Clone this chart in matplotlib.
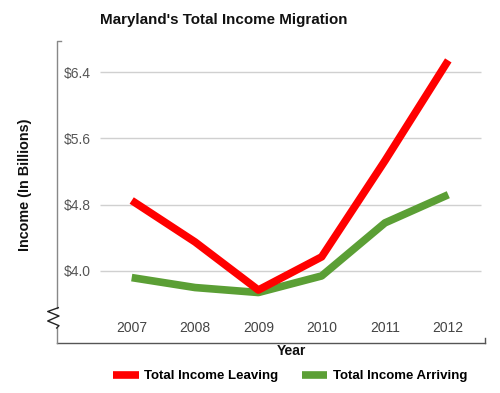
import matplotlib
matplotlib.use("Agg")
import matplotlib.pyplot as plt
from matplotlib.lines import Line2D

years = [2007, 2008, 2009, 2010, 2011, 2012]
leaving = [4.85, 4.35, 3.77, 4.17, 5.33, 6.54]
arriving = [3.92, 3.80, 3.74, 3.94, 4.58, 4.92]
yticks = [4.0, 4.8, 5.6, 6.4]
ytick_labels = ["$4.0", "$4.8", "$5.6", "$6.4"]

plt.rcParams["font.family"] = ["Liberation Sans", "DejaVu Sans"]

W, H = 500, 393
fig = plt.figure(figsize=(5, 3.93), dpi=100)


def fx(x):
    return x / W


def fy(y):
    return (H - y) / H


ax = fig.add_axes([fx(57), fy(343), fx(485) - fx(57), fy(41) - fy(343)])

ax.hlines(yticks, 0.10, 0.99, transform=ax.get_yaxis_transform(),
          color="#d0d0d0", lw=1, zorder=1)
ax.plot(years, leaving, color="#ff0000", lw=5.5, label="Total Income Leaving",
        solid_capstyle="butt", zorder=3)
ax.plot(years, arriving, color="#5b9f35", lw=5.5, label="Total Income Arriving",
        solid_capstyle="butt", zorder=2)

ax.set_xlim(2005.82, 2012.58)
ax.set_ylim(3.131, 6.774)
ax.set_xticks(years)
ax.set_xticklabels([str(y) for y in years])
ax.set_yticks(yticks)
ax.set_yticklabels(ytick_labels)
ax.tick_params(axis="y", length=0, pad=-5, labelsize=10, labelcolor="#555555")
for lab in ax.get_yticklabels():
    lab.set_horizontalalignment("left")
ax.tick_params(axis="x", length=0, pad=-16, labelsize=10, labelcolor="#444444")
for lab in ax.get_xticklabels():
    lab.set_verticalalignment("top")

for s in ["top", "right", "left"]:
    ax.spines[s].set_visible(False)
ax.spines["bottom"].set_color("#555555")
ax.spines["bottom"].set_linewidth(1)

# left axis line with break
left_col = "#888888"
fig.add_artist(Line2D([fx(61), fx(57), fx(57)], [fy(41), fy(41), fy(308)],
                      transform=fig.transFigure, color=left_col, lw=1))
fig.add_artist(Line2D([fx(57), fx(57)], [fy(328), fy(343)],
                      transform=fig.transFigure, color=left_col, lw=1))
zx = [58.3, 47.7, 59, 47.7, 59, 56.7]
zy = [307.7, 311.5, 316, 321, 325.7, 328]
fig.add_artist(Line2D([fx(x) for x in zx], [fy(y) for y in zy],
                      transform=fig.transFigure, color="#222222", lw=1))
# small tick at right end of x axis
fig.add_artist(Line2D([fx(485), fx(485)], [fy(343), fy(338)],
                      transform=fig.transFigure, color="#555555", lw=1))

fig.text(fx(224), fy(20), "Maryland's Total Income Migration", ha="center",
         va="center", fontsize=10.9, fontweight="bold", color="#111111")
fig.text(fx(25), fy(185), "Income (In Billions)", ha="center", va="center",
         rotation=90, fontsize=10.4, fontweight="bold", color="#111111")
fig.text(fx(291), fy(351), "Year", ha="center", va="center",
         fontsize=10, fontweight="bold", color="#111111")

fig.legend(loc="center", bbox_to_anchor=(fx(290), fy(376)), ncol=2,
           frameon=False, prop={"size": 9.5, "weight": "bold"},
           handlelength=1.95, columnspacing=1.8, handletextpad=0.4)

fig.savefig("out.png", dpi=100)
